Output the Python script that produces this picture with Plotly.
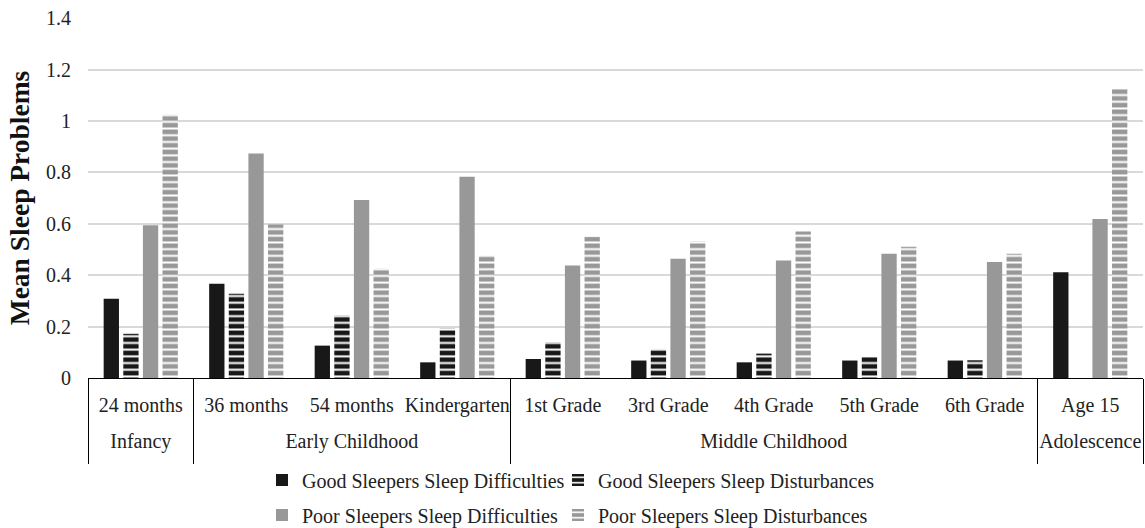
import plotly.graph_objects as go

groups = ["Infancy", "Early Childhood", "Early Childhood", "Early Childhood",
          "Middle Childhood", "Middle Childhood", "Middle Childhood", "Middle Childhood",
          "Middle Childhood", "Adolescence"]
categories = ["24 months", "36 months", "54 months", "Kindergarten", "1st Grade",
              "3rd Grade", "4th Grade", "5th Grade", "6th Grade", "Age 15"]

good_difficulties = [0.308, 0.367, 0.126, 0.061, 0.074, 0.068, 0.061, 0.068, 0.068, 0.412]
good_disturbances = [0.172, 0.328, 0.243, 0.192, 0.139, 0.113, 0.095, 0.082, 0.069, None]
poor_difficulties = [0.594, 0.874, 0.693, 0.783, 0.438, 0.464, 0.457, 0.484, 0.451, 0.619]
poor_disturbances = [1.024, 0.597, 0.425, 0.476, 0.550, 0.531, 0.570, 0.511, 0.484, 1.126]

series_names = ["Good Sleepers Sleep Difficulties", "Good Sleepers Sleep Disturbances",
                "Poor Sleepers Sleep Difficulties", "Poor Sleepers Sleep Disturbances"]

y_ticks = [0, 0.2, 0.4, 0.6, 0.8, 1.0, 1.2, 1.4]
y_ticklabels = ["0", "0.2", "0.4", "0.6", "0.8", "1", "1.2", "1.4"]

BLACK = "#181818"
GRAY = "#989898"
FONT = "Liberation Serif"
TXT = "#222222"


def pad(label, size):
    # invisible non-breaking spaces of a larger size, used only to enlarge the
    # label's bounding box (spacing between label rows / divider length)
    sp = "<span style='font-size:%dpx'>\u00a0</span>" % size
    return sp + label + sp


# spacing helpers: pad one label of each level
cat_labels = [pad(c, 39) if i == 0 else c for i, c in enumerate(categories)]
grp_labels = [pad(g, 70) if g == "Middle Childhood" else g for g in groups]

x = [grp_labels, cat_labels]

fig = go.Figure()


def add(values, name, color, striped, legend):
    marker = dict(color=color, line=dict(width=0))
    if striped:
        marker["pattern"] = dict(shape="-", fgcolor="white", bgcolor=color,
                                 size=6.7, solidity=0.3, fillmode="replace")
    fig.add_trace(go.Bar(x=x, y=values, name=name, marker=marker, legend=legend,
                         hoverinfo="y+name"))


add(good_difficulties, series_names[0], BLACK, False, "legend")
add(good_disturbances, series_names[1], BLACK, True, "legend2")
add(poor_difficulties, series_names[2], GRAY, False, "legend3")
add(poor_disturbances, series_names[3], GRAY, True, "legend4")

W, H = 1145, 528
ml, mr, mt, mb = 88, 2, 18, 150
pw = W - ml - mr
ph = H - mt - mb


def px_x(p):
    return (p - ml) / pw


def px_y(p):
    return (H - mb - p) / ph


legend_common = dict(orientation="h", xanchor="left", yanchor="middle",
                     font=dict(family=FONT, size=20, color=TXT),
                     itemwidth=30, bgcolor="rgba(0,0,0,0)")

col1, col2 = 262, 558
row1, row2 = 480, 515

fig.update_layout(
    width=W, height=H,
    margin=dict(l=ml, r=mr, t=mt, b=mb, autoexpand=False),
    plot_bgcolor="white", paper_bgcolor="white",
    barmode="group", bargap=0.256, bargroupgap=0.22,
    font=dict(family=FONT, size=20, color=TXT),
    showlegend=True,
    legend=dict(x=px_x(col1), y=px_y(row1), **legend_common),
    legend2=dict(x=px_x(col2), y=px_y(row1), **legend_common),
    legend3=dict(x=px_x(col1), y=px_y(row2), **legend_common),
    legend4=dict(x=px_x(col2), y=px_y(row2), **legend_common),
    xaxis=dict(
        type="multicategory",
        showline=True, linecolor="black", linewidth=1.3,
        showdividers=True, dividercolor="black", dividerwidth=1.3,
        ticks="", tickangle=0, ticklabelstandoff=9,
        tickfont=dict(family=FONT, size=20, color=TXT),
        showgrid=False,
    ),
    yaxis=dict(
        range=[0, 1.401], tickvals=y_ticks, ticktext=y_ticklabels,
        showgrid=True, gridcolor="#d9d9d9", gridwidth=1.5,
        showline=False, zeroline=False, ticks="",
        ticklabelstandoff=16,
        tickfont=dict(family=FONT, size=20, color=TXT),
        title=dict(text="Mean Sleep Problems\u00a0\u00a0",
                   font=dict(family=FONT, size=27.5, color="#111111", weight="bold"),
                   standoff=8),
    ),
)

fig.write_html("out.html", config={"displayModeBar": False},
               post_script="document.body.style.margin='0';")
